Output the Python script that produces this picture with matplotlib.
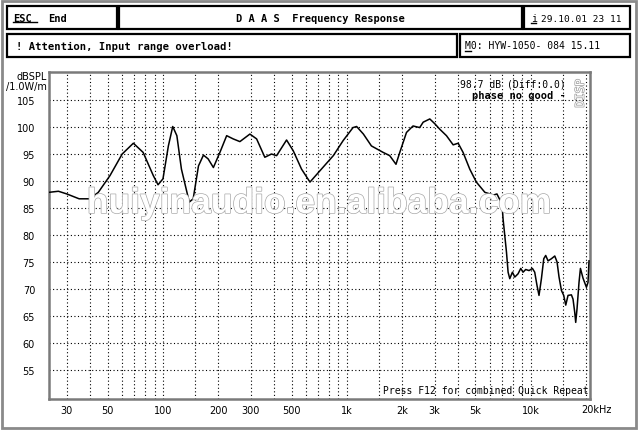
import matplotlib
matplotlib.use('Agg')
import matplotlib.pyplot as plt
from matplotlib.patches import Rectangle
import matplotlib.patheffects as pe
import matplotlib.transforms as mtransforms

W, H = 640, 431

# measured response (Hz, dB SPL @ 1W/1m)
freq = [24, 27, 30, 35, 40, 44.5, 51.5, 60, 69, 78,
        88.6, 94, 100, 107, 113, 119, 126, 139, 146, 156,
        166, 176, 188, 204, 222, 241, 262, 297, 323, 358,
        389, 415, 470, 511, 567, 630, 714, 844, 955, 1080,
        1130, 1230, 1360, 1575, 1710, 1850, 1940, 2110, 2290, 2490,
        2600, 2825, 3010, 3200, 3480, 3785, 4030, 4285, 4660, 5060,
        5630, 6270, 6550, 6980, 7070, 7380, 7530, 7690, 7950, 8190,
        8530, 8825, 9080, 9390, 9790, 10210, 10510, 10820, 11090, 11430,
        11770, 12060, 12420, 12960, 13510, 13900, 14250, 14690, 15110, 15500,
        15950, 16640, 16980, 17340, 17560, 17850, 18300, 18630, 19240, 20080,
        20480, 20740]
spl = [87.9, 88.1, 87.6, 86.7, 86.7, 87.9, 91.0, 95.0, 97.0, 95.3,
       91.0, 89.3, 90.4, 96.5, 100.1, 98.4, 92.2, 86.1, 86.7, 92.8,
       94.8, 94.1, 92.5, 95.3, 98.4, 97.8, 97.3, 98.7, 97.8, 94.4,
       95.0, 94.7, 97.6, 95.6, 92.2, 89.8, 91.9, 94.7, 97.5, 99.9,
       100.1, 98.7, 96.5, 95.3, 94.7, 93.1, 95.3, 99.0, 100.2, 99.9,
       100.9, 101.5, 100.6, 99.6, 98.4, 96.7, 97.0, 95.3, 92.2, 89.8,
       87.9, 87.4, 87.6, 85.7, 83.0, 76.8, 73.1, 71.9, 73.1, 72.2,
       72.8, 73.8, 73.1, 73.6, 73.4, 73.8, 73.1, 70.6, 68.8, 71.9,
       75.6, 76.2, 75.2, 75.6, 76.1, 75.0, 72.2, 69.7, 68.8, 67.0,
       68.8, 68.9, 68.1, 65.7, 63.8, 66.3, 71.2, 73.8, 72.0, 70.3,
       71.2, 75.2]

xgrid = [30, 40, 50, 60, 70, 80, 90, 100, 150, 200, 300, 400, 500, 600, 700, 800, 900,
         1000, 1500, 2000, 3000, 4000, 5000, 6000, 7000, 8000, 9000, 10000, 15000, 20000]
xticks = [30, 50, 100, 200, 300, 500, 1000, 2000, 3000, 5000, 10000]
xlabels = ['30', '50', '100', '200', '300', '500', '1k', '2k', '3k', '5k', '10k']
yticks = [55, 60, 65, 70, 75, 80, 85, 90, 95, 100, 105]

MONO = 'DejaVu Sans Mono'

fig = plt.figure(figsize=(W / 100, H / 100), dpi=100)
fig.patch.set_facecolor('white')


def fx(x):
    return x / W


def fy(y):
    return 1 - y / H


def box(x0, y0, x1, y1, lw=1.6):
    fig.patches.append(Rectangle((fx(x0), fy(y1)), fx(x1) - fx(x0), fy(y0) - fy(y1),
                                 transform=fig.transFigure, fill=False,
                                 edgecolor='black', linewidth=lw))


# outer dithered frame
fig.patches.append(Rectangle((fx(1.5), fy(429)), fx(636) - fx(1.5), fy(1.5) - fy(429),
                             transform=fig.transFigure, fill=False,
                             edgecolor='#8a8a8a', linewidth=2.0))

# header boxes
box(7, 7, 117, 30)
box(119, 7, 522, 30)
box(524, 7, 630, 30)
box(7, 35, 457, 58)
box(460, 35, 630, 58)

fig.text(fx(13), fy(19), 'ESC', fontfamily=MONO, fontweight='bold', fontsize=7.5, va='center')
fig.lines.append(plt.Line2D([fx(13), fx(37)], [fy(23), fy(23)], transform=fig.transFigure,
                            color='black', lw=1))
fig.text(fx(48), fy(19), 'End', fontfamily=MONO, fontweight='bold', fontsize=7.5, va='center')
fig.text(fx(320), fy(19), 'D A A S  Frequency Response', fontfamily=MONO,
         fontweight='bold', fontsize=7.5, ha='center', va='center')
fig.text(fx(531), fy(19), 'i', fontfamily=MONO, fontsize=7, va='center')
fig.lines.append(plt.Line2D([fx(531), fx(536)], [fy(24), fy(24)], transform=fig.transFigure,
                            color='black', lw=1))
fig.text(fx(541), fy(19), '29.10.01 23 11', fontfamily=MONO, fontsize=6.8, va='center')
fig.text(fx(16), fy(46.5), '! Attention, Input range overload!', fontfamily=MONO,
         fontweight='bold', fontsize=7.6, va='center')
fig.text(fx(465), fy(46.5), 'M0: HYW-1050- 084 15.11', fontfamily=MONO, fontsize=7,
         va='center')
fig.lines.append(plt.Line2D([fx(465), fx(471)], [fy(52), fy(52)], transform=fig.transFigure,
                            color='black', lw=1))

# plot area
ax = fig.add_axes([fx(49), fy(400), fx(590) - fx(49), fy(73) - fy(400)])
ax.set_xscale('log')
ax.set_xlim(24, 21000)
ax.set_ylim(49.6, 110.2)

for f in xgrid:
    ax.axvline(f, color='black', lw=0.8, ls=(0, (1, 2.2)), zorder=1)
for v in yticks:
    ax.axhline(v, color='black', lw=0.8, ls=(0, (1, 2.2)), zorder=1)

ax.plot(freq, spl, color='black', lw=1.1, zorder=3)

ax.set_xticks(xticks)
ax.set_xticklabels(xlabels)
ax.xaxis.set_minor_locator(matplotlib.ticker.NullLocator())
ax.set_yticks(yticks)
ax.set_yticklabels([str(v) for v in yticks])
ax.tick_params(length=0, labelsize=7, pad=4)
ax.tick_params(axis='y', pad=10)
for s in ax.spines.values():
    s.set_color('#7a7a7a')
    s.set_linewidth(1.8)

off = mtransforms.offset_copy(ax.get_xaxis_transform(), fig=fig, x=-5, y=-5.5, units='dots')
ax.text(20000, 0, '20kHz', transform=off, ha='left', va='top', fontsize=7)

fig.text(fx(47), fy(77), 'dBSPL', ha='right', va='center', fontsize=7)
fig.text(fx(47), fy(87), '/1.0W/m', ha='right', va='center', fontsize=7)

ax.text(0.955, 0.965, '98.7 dB (Diff:0.0)', transform=ax.transAxes, ha='right', va='center',
        fontfamily=MONO, fontsize=7)
ax.text(0.955, 0.93, 'phase no good -', transform=ax.transAxes, ha='right', va='center',
        fontfamily=MONO, fontweight='bold', fontsize=7.5)
ax.text(0.982, 0.935, 'DISP', transform=ax.transAxes, ha='center', va='center', rotation=90,
        fontfamily=MONO, fontsize=8.5, color='white',
        path_effects=[pe.withStroke(linewidth=1, foreground='#9a9a9a')])
ax.text(0.997, 0.012, 'Press F12 for combined Quick Repeat', transform=ax.transAxes,
        ha='right', va='bottom', fontfamily=MONO, fontsize=7)

# watermark
fig.text(fx(319), fy(214), 'huiyinaudio.en.alibaba.com', ha='center', va='baseline',
         fontfamily='Liberation Sans', fontweight='bold', fontsize=25.5, color='white',
         zorder=5, path_effects=[pe.withStroke(linewidth=1.0, foreground='#a8a8a8')])

plt.savefig('out.png', dpi=100)
